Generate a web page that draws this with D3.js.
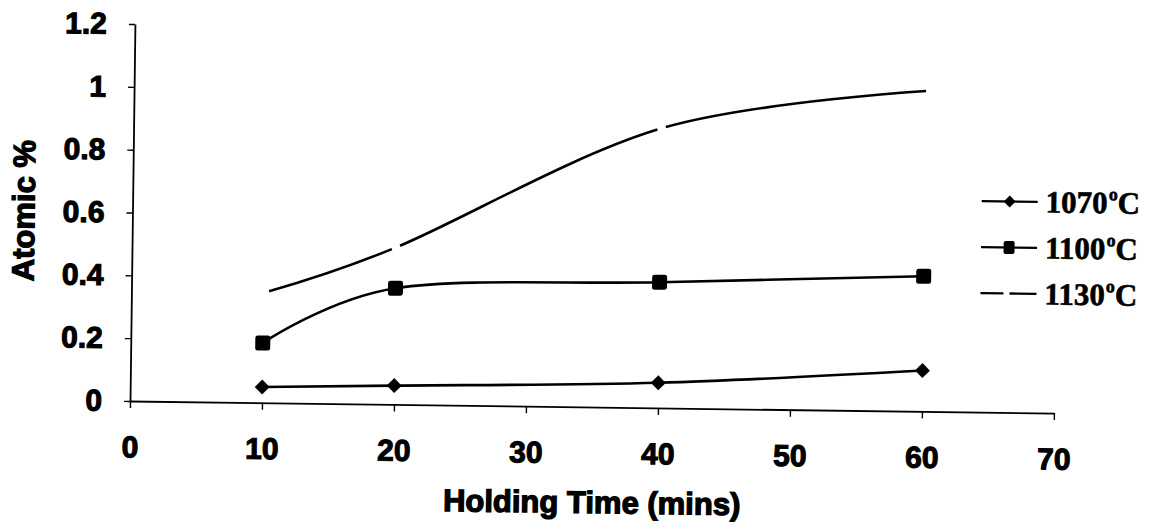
<!DOCTYPE html>
<html>
<head>
<meta charset="utf-8">
<script src="https://cdn.jsdelivr.net/npm/d3@7"></script>
<style>
  body { margin: 0; background: #fff; }
  svg { display: block; }
</style>
</head>
<body>
<svg id="chart" width="1163" height="527"></svg>
<script>
// Holding time (minutes) and atomic % at each temperature
const holdingTimes = [10, 20, 40, 60];
const series1070 = [0.05, 0.06, 0.08, 0.13];
const series1100 = [0.19, 0.37, 0.40, 0.43];
const series1130 = [0.35, 0.50, 0.89, 1.02];
const seriesLabels = ["1070", "1100", "1130"];
const xTickValues = [0, 10, 20, 30, 40, 50, 60, 70];
const yTickValues = [0, 0.2, 0.4, 0.6, 0.8, 1, 1.2];
const yTickLabels = ["0", "0.2", "0.4", "0.6", "0.8", "1", "1.2"];
const xTitle = "Holding Time (mins)";
const yTitle = "Atomic %";

const sansBold = "'Liberation Sans', Arial, sans-serif";
const serifBold = "'Liberation Serif', 'Times New Roman', serif";

const svg = d3.select("#chart");
const x = d3.scaleLinear().domain([0, 70]).range([130, 1054]);
const y = d3.scaleLinear().domain([0, 1.2]).range([401, 24]);

// whole figure sits with a slight clockwise tilt
const g = svg.append("g").attr("transform", "rotate(0.75,130,401)");

// ---- axes ----
const xAxis = d3.axisBottom(x).tickValues(xTickValues).tickSize(7).tickSizeOuter(0)
  .tickPadding(28).tickFormat(d3.format("d"));
const yAxis = d3.axisLeft(y).tickValues(yTickValues).tickSize(6).tickSizeOuter(0)
  .tickPadding(22).tickFormat((d, i) => yTickLabels[i]);

const gx = g.append("g").attr("transform", "translate(0,401)").call(xAxis);
const gy = g.append("g").attr("transform", "translate(130,0)").call(yAxis);

[gx, gy].forEach(ax => {
  ax.select(".domain").attr("stroke", "#000").attr("stroke-width", 1.8);
  ax.selectAll(".tick line").attr("stroke", "#000").attr("stroke-width", 1.4);
  ax.selectAll(".tick text")
    .attr("fill", "#000")
    .attr("stroke", "#000").attr("stroke-width", 1.1)
    .style("font-family", sansBold)
    .style("font-weight", "bold")
    .style("font-size", "30px");
});

// ---- axis titles ----
g.append("text")
  .attr("x", 593).attr("y", 507)
  .attr("text-anchor", "middle")
  .attr("stroke", "#000").attr("stroke-width", 1.3)
  .style("font-family", sansBold).style("font-weight", "bold").style("font-size", "31px")
  .text(xTitle);

g.append("text")
  .attr("transform", "translate(32,212) rotate(-90)")
  .attr("text-anchor", "middle")
  .attr("stroke", "#000").attr("stroke-width", 1.3)
  .style("font-family", sansBold).style("font-weight", "bold").style("font-size", "31px")
  .text(yTitle);

// ---- series ----
const smooth = d3.line()
  .x(d => x(d[0]))
  .y(d => y(d[1]))
  .curve(d3.curveCatmullRom.alpha(0));

const pts1070 = holdingTimes.map((t, i) => [t, series1070[i]]);
const pts1100 = holdingTimes.map((t, i) => [t, series1100[i]]);
const pts1130 = holdingTimes.map((t, i) => [t, series1130[i]]);

function drawLine(pts) {
  return g.append("path")
    .attr("d", smooth(pts))
    .attr("fill", "none")
    .attr("stroke", "#000")
    .attr("stroke-width", 2.6)
    .attr("stroke-linejoin", "round");
}

drawLine(pts1070);
drawLine(pts1100);
const path1130 = drawLine(pts1130);

// long-dash pattern for 1130: breaks fall at the interior readings
(function () {
  const node = path1130.node();
  const total = node.getTotalLength();
  function lengthAtX(tx) {
    let lo = 0, hi = total;
    for (let k = 0; k < 40; k++) {
      const mid = (lo + hi) / 2;
      if (node.getPointAtLength(mid).x < tx) lo = mid; else hi = mid;
    }
    return lo;
  }
  const gap = 9, lead = 6;
  const l20 = lengthAtX(x(holdingTimes[1]));
  const l40 = lengthAtX(x(holdingTimes[2]));
  const dashes = [0, lead,
    l20 - gap / 2 - lead, gap,
    (l40 - gap / 2) - (l20 + gap / 2), gap,
    total - (l40 + gap / 2) + 2, 0];
  path1130.attr("stroke-dasharray", dashes.join(","));
})();

// markers
const diamond = d3.symbol().type(d3.symbolSquare).size(112);
g.append("g").selectAll("path")
  .data(pts1070).join("path")
  .attr("d", diamond)
  .attr("transform", d => `translate(${x(d[0])},${y(d[1])}) rotate(45)`)
  .attr("fill", "#000");

g.append("g").selectAll("rect")
  .data(pts1100).join("rect")
  .attr("x", d => x(d[0]) - 7.5).attr("y", d => y(d[1]) - 7.5)
  .attr("width", 15).attr("height", 15).attr("rx", 2.5)
  .attr("fill", "#000");

// ---- legend ----
const legendRows = [190, 236, 282];
const legend = g.append("g");
legendRows.forEach((ry, i) => {
  const line = legend.append("line")
    .attr("x1", 979).attr("x2", 1035).attr("y1", ry).attr("y2", ry)
    .attr("stroke", "#000").attr("stroke-width", 2.4);
  if (i === 2) line.attr("stroke-dasharray", "23,6,27");
  if (i === 0) {
    legend.append("path")
      .attr("d", d3.symbol().type(d3.symbolSquare).size(72))
      .attr("transform", `translate(1007,${ry}) rotate(45)`)
      .attr("fill", "#000");
  } else if (i === 1) {
    legend.append("rect")
      .attr("x", 1007 - 5.5).attr("y", ry - 6.5)
      .attr("width", 11).attr("height", 13).attr("rx", 2)
      .attr("fill", "#000");
  }
  const t = legend.append("text")
    .attr("x", 1043).attr("y", ry + 10.5)
    .attr("stroke", "#000").attr("stroke-width", 0.6)
    .style("font-family", serifBold).style("font-weight", "bold").style("font-size", "31px");
  t.append("tspan").text(seriesLabels[i]);
  t.append("tspan").attr("dy", -13).attr("dx", 1).style("font-size", "18px").text("o");
  t.append("tspan").attr("dy", 13).text("C");
});
</script>
</body>
</html>
